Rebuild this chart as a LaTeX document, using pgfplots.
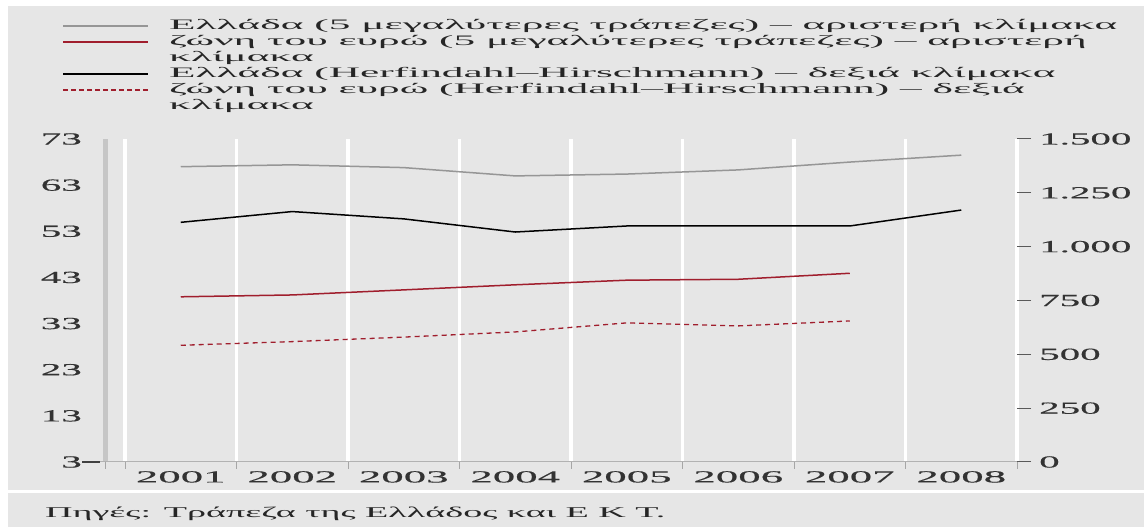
\documentclass[border=0pt]{standalone}
\usepackage{fontspec}
\setmainfont{Liberation Serif}[FakeStretch=2.55]
\newfontfamily\lgfont{Liberation Serif}[FakeStretch=3.0]
\newfontfamily\tkfont{Liberation Serif}[FakeStretch=2.65,FakeBold=0.5]
\newfontfamily\ytfont{Liberation Serif}[FakeStretch=2.42,FakeBold=0.5]
\usepackage{pgfplots}
\pgfplotsset{compat=1.18}
\definecolor{panel}{RGB}{230,230,230}
\definecolor{ecbred}{RGB}{160,30,45}
\definecolor{grline}{RGB}{150,150,150}

\begin{document}
\begin{tikzpicture}[x=1bp,y=1bp]
\useasboundingbox (0,0) rectangle (1144,527);
\fill[white] (0,0) rectangle (1144,527);
\fill[panel] (8,37) rectangle (1144,521);
\fill[panel] (8,0) rectangle (1144,34);
\node[anchor=base west, inner sep=0pt, text=black!85, font=\fontsize{15}{18}\selectfont] at (45,9)
  {Πηγές: Τράπεζα της Ελλάδος και Ε Κ Τ.};

% left scale: 5 largest banks (%)
\begin{axis}[
  at={(125bp,65bp)}, anchor=south west, scale only axis,
  width=892bp, height=323bp,
  xmin=-0.5, xmax=7.5, ymin=3, ymax=73,
  clip=false,
  axis line style={draw=none},
  xtick={0,...,7},
  xticklabels={2001,2002,2003,2004,2005,2006,2007,2008},
  minor xtick={-0.5,0.5,...,7.5},
  xminorgrids=true,
  minor grid style={white, line width=3.5bp},
  xtick pos=bottom, ytick pos=left,
  tick align=outside,
  major tick length=0pt, minor tick length=7bp,
  minor x tick style={gray!70, line width=0.8bp},
  ytick={3,13,...,73},
  ticklabel style={text=black!80},
  xticklabel style={font=\tkfont\fontsize{17}{18}\selectfont, inner sep=0pt, yshift=-9bp},
  yticklabel style={font=\ytfont\fontsize{17}{18}\selectfont, anchor=east, inner sep=0pt, xshift=-43bp},
  /pgf/number format/assume math mode=true,
  legend cell align=left,
  legend image code/.code={\draw[#1] (0bp,0bp) -- (85bp,0bp); \path (105bp,0bp);},
  legend style={at={(-0.0706,1.371)}, anchor=north west, draw=none, fill=none,
    inner sep=0pt, row sep=3bp, text=black!85,
    font=\lgfont\fontsize{14.5}{16}\selectfont,
    nodes={inner sep=0pt, text height=10bp, text depth=3bp}},
]
\addplot[grline, line width=1.5bp, forget plot] coordinates {
  (0,67.0) (1,67.4) (2,66.8) (3,65.0) (4,65.4) (5,66.3) (6,68.0) (7,69.5)};
\addplot[ecbred, line width=1.5bp, forget plot] coordinates {
  (0,38.8) (1,39.2) (2,40.3) (3,41.4) (4,42.4) (5,42.6) (6,43.9)};
\addlegendimage{grline, line width=2bp}
\addlegendentry{Ελλάδα (5 μεγαλύτερες τράπεζες) – αριστερή κλίμακα}
\addlegendimage{ecbred, line width=2bp}
\addlegendentry{ζώνη του ευρώ (5 μεγαλύτερες τράπεζες) – αριστερή}
\addlegendimage{empty legend}
\addlegendentry{κλίμακα}
\addlegendimage{black, line width=2bp}
\addlegendentry{Ελλάδα (Herfindahl–Hirschmann) – δεξιά κλίμακα}
\addlegendimage{ecbred, line width=1.6bp, dash pattern=on 5bp off 3bp}
\addlegendentry{ζώνη του ευρώ (Herfindahl–Hirschmann) – δεξιά}
\addlegendimage{empty legend}
\addlegendentry{κλίμακα}
% axis furniture
\draw[gray!45, line width=5bp] ([xshift=-20bp]rel axis cs:0,0) -- ([xshift=-20bp]rel axis cs:0,1);
\draw[gray!60, line width=1bp] ([xshift=-25bp]rel axis cs:0,0) -- (rel axis cs:1,0);
\draw[black!75, line width=1.3bp] ([xshift=-43bp]rel axis cs:0,0) -- ([xshift=-25bp]rel axis cs:0,0);
\draw[gray!70, line width=0.8bp] ([xshift=-20bp]rel axis cs:0,0) -- ([xshift=-20bp,yshift=-7bp]rel axis cs:0,0);
\end{axis}

% right scale: Herfindahl-Hirschmann index
\begin{axis}[
  at={(125bp,65bp)}, anchor=south west, scale only axis,
  width=892bp, height=323bp,
  xmin=-0.5, xmax=7.5, ymin=0, ymax=1500,
  axis x line=none, axis y line*=right,
  axis line style={draw=none},
  ytick={0,250,...,1500},
  tick align=outside, major tick length=14bp,
  ytick style={black!65, line width=1bp},
  ticklabel style={text=black!80},
  yticklabel style={font=\ytfont\fontsize{17}{18}\selectfont, anchor=west, inner sep=0pt, xshift=8bp},
  /pgf/number format/.cd, 1000 sep={.}, assume math mode=true,
]
\addplot[black, line width=1.5bp] coordinates {
  (0,1113) (1,1163) (2,1129) (3,1068) (4,1096) (5,1096) (6,1096) (7,1170)};
\addplot[ecbred, line width=1.3bp, dash pattern=on 5bp off 4bp] coordinates {
  (0,542) (1,559) (2,580) (3,604) (4,646) (5,632) (6,655)};
\end{axis}
\end{tikzpicture}
\end{document}
